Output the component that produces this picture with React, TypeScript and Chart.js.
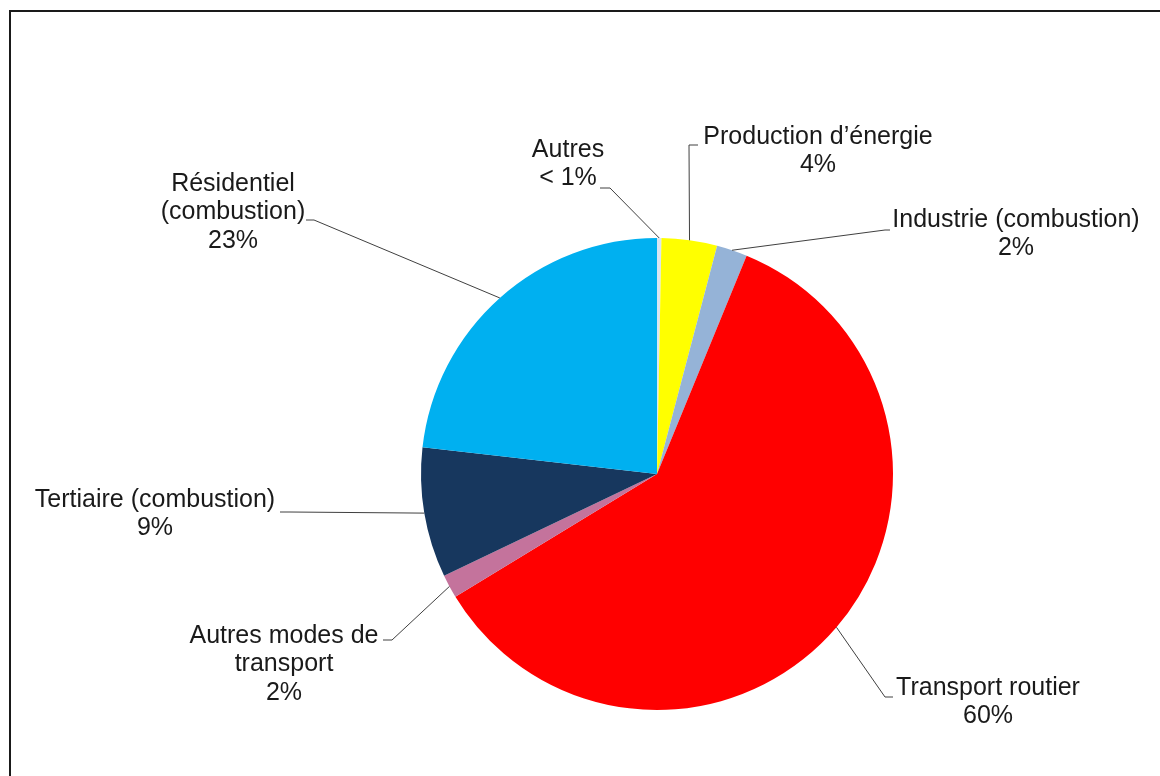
import React, { useEffect, useRef } from "react";
import { Chart, registerables } from "chart.js";

Chart.register(...registerables);

// Categories in clockwise order starting at 12 o'clock ("\n" = line break in label)
const categories = [
  "Autres",
  "Production d’énergie",
  "Industrie (combustion)",
  "Transport routier",
  "Autres modes de\ntransport",
  "Tertiaire (combustion)",
  "Résidentiel\n(combustion)",
];

// Share of emissions (%)
const shares = [0.3, 3.8, 2.1, 60.1, 1.6, 8.9, 23.2];

const sliceColors = [
  "#dbe5f1",
  "#ffff00",
  "#95b3d7",
  "#ff0000",
  "#c4739c",
  "#17375e",
  "#00b0f0",
];

// Label layout relative to pie center: text center x, first line y, leader attach point, elbow point
const labelLayout = [
  { cx: -89, y: -324, ax: -57, ay: -286, ex: -47, ey: -286 },
  { cx: 161, y: -337, ax: 41, ay: -329, ex: 32, ey: -329 },
  { cx: 359, y: -254, ax: 233, ay: -244, ex: 228, ey: -244 },
  { cx: 331, y: 214, ax: 236, ay: 223, ex: 228, ey: 223 },
  { cx: -373, y: 162, ax: -274, ay: 166, ex: -265, ey: 166 },
  { cx: -502, y: 26, ax: -377, ay: 38, ex: -367, ey: 38 },
  { cx: -424, y: -290, ax: -351, ay: -254, ex: -343, ey: -254 },
];

const pctText = (v: number) => (v < 1 ? "< 1%" : `${Math.round(v)}%`);

const framePlugin = {
  id: "frame",
  beforeDraw(chart: any) {
    const { ctx, width, height } = chart;
    ctx.save();
    ctx.fillStyle = "#ffffff";
    ctx.fillRect(0, 0, width, height);
    ctx.strokeStyle = "#1a1a1a";
    ctx.lineWidth = 2;
    ctx.beginPath();
    ctx.moveTo(9, 11);
    ctx.lineTo(width, 11);
    ctx.moveTo(10, 10);
    ctx.lineTo(10, height);
    ctx.stroke();
    ctx.restore();
  },
};

const labelPlugin = {
  id: "pieLabels",
  afterDraw(chart: any) {
    const { ctx } = chart;
    const meta = chart.getDatasetMeta(0);
    ctx.save();
    meta.data.forEach((arc: any, i: number) => {
      const L = labelLayout[i];
      const cxp = arc.x;
      const cyp = arc.y;
      const mid = (arc.startAngle + arc.endAngle) / 2;
      const r = arc.outerRadius;
      const px = cxp + Math.cos(mid) * r;
      const py = cyp + Math.sin(mid) * r;
      // leader line
      ctx.strokeStyle = "#404040";
      ctx.lineWidth = 1;
      ctx.beginPath();
      ctx.moveTo(px, py);
      ctx.lineTo(cxp + L.ex, cyp + L.ey);
      ctx.lineTo(cxp + L.ax, cyp + L.ay);
      ctx.stroke();
      // text
      const lines = categories[i].split("\n").concat([pctText(shares[i])]);
      ctx.fillStyle = "#1a1a1a";
      ctx.font = "25px 'Liberation Sans', Arial, sans-serif";
      ctx.textAlign = "center";
      ctx.textBaseline = "middle";
      lines.forEach((t: string, k: number) => {
        ctx.fillText(t, cxp + L.cx, cyp + L.y + k * 28.5);
      });
    });
    ctx.restore();
  },
};

export default function App() {
  const ref = useRef<HTMLCanvasElement | null>(null);
  useEffect(() => {
    if (!ref.current) return;
    const chart = new Chart(ref.current, {
      type: "pie",
      data: {
        labels: categories,
        datasets: [
          {
            data: shares,
            backgroundColor: sliceColors,
            borderWidth: 0,
          },
        ],
      },
      options: {
        animation: false,
        responsive: false,
        maintainAspectRatio: false,
        layout: { padding: { left: 421, right: 267, top: 238, bottom: 66 } },
        plugins: {
          legend: { display: false },
          tooltip: { enabled: false },
        },
      },
      plugins: [framePlugin, labelPlugin],
    });
    return () => chart.destroy();
  }, []);
  return (
    <div style={{ position: "absolute", left: 0, top: 0, width: 1160, height: 776, background: "#fff" }}>
      <canvas ref={ref} width={1160} height={776} style={{ display: "block" }} />
    </div>
  );
}
